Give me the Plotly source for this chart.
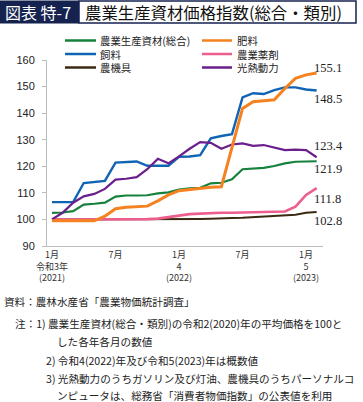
import plotly.graph_objects as go

# ---- data (Jan 2021 .. Feb 2023, monthly, 2020 = 100) ----
months = list(range(26))
total = [102.5, 102.6, 103.1, 105.6, 105.9, 106.3, 108.6, 109.0, 109.0, 109.1, 109.8, 110.2,
         111.2, 111.7, 111.9, 113.6, 113.8, 115.1, 118.9, 119.2, 119.4, 120.1, 121.1, 121.7, 121.9, 121.9]
fertilizer = [99.5, 99.5, 99.5, 99.5, 99.5, 101.2, 104.0, 104.6, 104.8, 105.0, 107.0, 109.2,
              110.8, 111.3, 111.7, 112.1, 112.3, 127.0, 141.8, 144.3, 144.7, 145.0, 149.3, 153.1, 154.4, 155.1]
feed = [106.5, 106.4, 106.5, 113.7, 114.0, 114.5, 121.4, 121.7, 121.8, 120.2, 120.2, 120.2,
        123.6, 123.7, 124.2, 130.5, 131.4, 132.1, 145.9, 147.5, 147.2, 148.7, 149.7, 149.7, 148.9, 148.5]
agrochem = [100.0, 100.0, 100.0, 100.0, 100.0, 100.0, 100.0, 100.0, 100.0, 100.1, 100.3, 100.8,
            101.5, 102.0, 102.2, 102.4, 102.5, 102.5, 102.6, 102.7, 102.8, 102.9, 103.0, 104.8, 109.2, 111.8]
machinery = [100.0, 100.0, 100.0, 100.0, 100.0, 100.0, 100.0, 100.0, 100.0, 100.0, 100.0, 100.0,
             100.0, 100.1, 100.2, 100.3, 100.3, 100.5, 100.6, 100.8, 101.0, 101.3, 101.6, 101.8, 102.5, 102.8]
energy = [100.0, 102.5, 106.3, 108.7, 109.6, 111.5, 115.0, 115.3, 115.9, 118.9, 122.8, 121.1,
          123.7, 126.6, 129.1, 128.8, 126.6, 128.2, 128.6, 127.7, 128.0, 127.1, 126.1, 126.3, 126.1, 123.4]

series_names = ["農業生産資材(総合)", "肥料", "飼料", "農業薬剤", "農機具", "光熱動力"]
series_vals = [total, fertilizer, feed, agrochem, machinery, energy]
series_colors = ["#16813c", "#f58220", "#0f64b4", "#ec5f8c", "#3b2a12", "#6a1f8c"]
series_widths = [2.2, 3.0, 2.4, 2.6, 2.0, 2.2]

tick_vals = [0, 6, 12, 18, 24]
tick_text = ["1月<br>令和3年<br>(2021)", "7月", "1月<br>4<br>(2022)", "7月", "1月<br>5<br>(2023)"]

end_labels = ["155.1", "148.5", "123.4", "121.9", "111.8", "102.8"]
end_label_y = [68, 99, 145.5, 169, 199, 221]  # pixel rows

W, H = 363, 402
L, R, T, B = 47, 40, 60, 156
PW, PH = W - L - R, H - T - B

def px(x):
    return (x - L) / PW

def py(y):
    return 1 - (y - T) / PH

JP = "Noto Sans CJK JP"

fig = go.Figure()
draw_order = [0, 4, 3, 2, 5, 1]
for k in draw_order:
    fig.add_trace(go.Scatter(x=months, y=series_vals[k], mode="lines", name=series_names[k],
                             line=dict(color=series_colors[k], width=series_widths[k]),
                             showlegend=False, hoverinfo="skip"))

shapes = []
annotations = []

# title bar
navy = "#15224f"
shapes.append(dict(type="rect", xref="paper", yref="paper", x0=px(0), x1=px(79), y0=py(23), y1=py(1),
                   fillcolor=navy, line=dict(color=navy, width=1)))
shapes.append(dict(type="rect", xref="paper", yref="paper", x0=px(79), x1=px(356), y0=py(23), y1=py(1),
                   fillcolor="white", line=dict(color=navy, width=1.5)))
annotations.append(dict(text="図表 特-7", xref="paper", yref="paper", x=px(3), y=py(12),
                        xanchor="left", yanchor="middle", showarrow=False,
                        font=dict(family=JP, size=16, color="white")))
annotations.append(dict(text="農業生産資材価格指数(総合・類別)", xref="paper", yref="paper", x=px(83), y=py(12),
                        xanchor="left", yanchor="middle", showarrow=False,
                        font=dict(family=JP, size=16.4, color="#111")))

# legend (manual, 2 columns; each column's names in one multi-line text)
leg_cols = [(65, 96, 98), (202, 232, 235)]
leg_rows = [40.5, 54, 67.5]
for col in range(2):
    c = leg_cols[col]
    names = []
    for row in range(3):
        idx = row * 2 + col
        shapes.append(dict(type="line", xref="paper", yref="paper", x0=px(c[0]), x1=px(c[1]),
                           y0=py(leg_rows[row]), y1=py(leg_rows[row]),
                           line=dict(color=series_colors[idx], width=2.5)))
        names.append(series_names[idx])
    annotations.append(dict(text="<br>".join(names), xref="paper", yref="paper", x=px(c[2]),
                            y=py(leg_rows[1]), xanchor="left", yanchor="middle", align="left",
                            showarrow=False, font=dict(family=JP, size=10.4, color="#222")))

# end labels
for lab, yy in zip(end_labels, end_label_y):
    annotations.append(dict(text=lab, xref="paper", yref="paper", x=px(312), y=py(yy),
                            xanchor="left", yanchor="middle", showarrow=False,
                            font=dict(family="Liberation Serif", size=12.5, color="#222")))

# notes
notes = [
    (2, 301, "資料：農林水産省「農業物価統計調査」"),
    (13, 323, "注：1) 農業生産資材(総合・類別)の令和2(2020)年の平均価格を100と"),
    (55, 341.5, "した各年各月の数値"),
    (44, 360, "2) 令和4(2022)年及び令和5(2023)年は概数値"),
    (44, 378, "3) 光熱動力のうちガソリン及び灯油、農機具のうちパーソナルコ"),
    (55, 395.5, "ンピュータは、総務省「消費者物価指数」の公表値を利用"),
]
for xx, yy, t in notes:
    annotations.append(dict(text=t, xref="paper", yref="paper", x=px(xx), y=py(yy),
                            xanchor="left", yanchor="middle", showarrow=False, height=13,
                            font=dict(family=JP, size=10.6, color="#222")))

fig.update_layout(
    width=W, height=H,
    margin=dict(l=L, r=R, t=T, b=B, pad=0),
    paper_bgcolor="white", plot_bgcolor="white",
    shapes=shapes, annotations=annotations,
    showlegend=False,
    xaxis=dict(range=[-0.47, 25.6], tickmode="array", tickvals=tick_vals, ticktext=tick_text,
               showgrid=False, zeroline=False, showline=True, linecolor="#bdbdbd", linewidth=1,
               ticks="", tickfont=dict(family=JP, size=9, color="#333"), fixedrange=True),
    yaxis=dict(range=[90, 160], tickvals=[90, 100, 110, 120, 130, 140, 150, 160],
               showgrid=False, zeroline=False, showline=True, linecolor="#bdbdbd", linewidth=1,
               ticks="outside", ticklen=4, tickcolor="#bdbdbd", ticklabelstandoff=5,
               tickfont=dict(family="Liberation Sans", size=11, color="#222"), fixedrange=True),
)

fig.write_html("out.html", config={"displayModeBar": False},
               post_script="document.body.style.margin='0';document.body.style.overflow='hidden';")
